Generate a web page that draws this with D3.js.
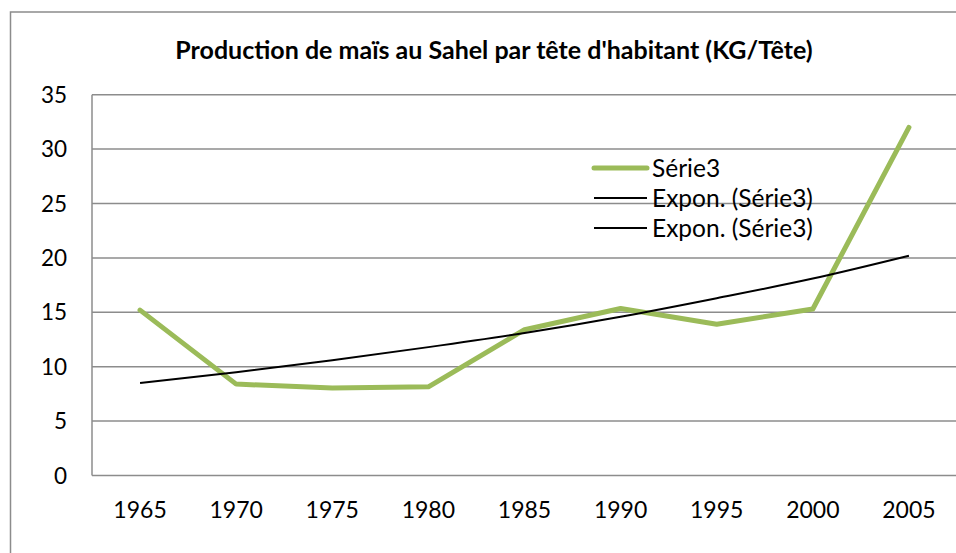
<!DOCTYPE html>
<html>
<head>
<meta charset="utf-8">
<script src="https://cdn.jsdelivr.net/npm/d3@7"></script>
<style>
  body { margin: 0; background: #fff; }
  text { font-family: Lato, "Open Sans", sans-serif; fill: #000; }
</style>
</head>
<body>
<div id="chart"></div>
<script>
var years = ["1965", "1970", "1975", "1980", "1985", "1990", "1995", "2000", "2005"];
var serie3 = [15.2, 8.4, 8.05, 8.15, 13.4, 15.35, 13.9, 15.3, 32.0];
var expon = [8.5, 9.5, 10.6, 11.8, 13.1, 14.6, 16.3, 18.1, 20.2];
var yTicks = [0, 5, 10, 15, 20, 25, 30, 35];
var legendItems = ["Série3", "Expon. (Série3)", "Expon. (Série3)"];
var title = "Production de maïs au Sahel par tête d'habitant (KG/Tête)";

var width = 956, height = 553;
var plotLeft = 92, plotRight = 957, plotTop = 94.7, plotBottom = 475.5;
var green = "#9bbb59", gridColor = "#8c8c8c";

var svg = d3.select("#chart").append("svg")
    .attr("width", width)
    .attr("height", height);

// outer chart border
svg.append("rect")
    .attr("x", 10.5).attr("y", 12)
    .attr("width", 980).attr("height", 600)
    .attr("fill", "none")
    .attr("stroke", gridColor)
    .attr("stroke-width", 1.5);

var x = d3.scaleBand()
    .domain(years)
    .range([plotLeft, plotRight]);

var y = d3.scaleLinear()
    .domain([0, 35])
    .range([plotBottom, plotTop]);

// grid lines
svg.append("g")
    .selectAll("line")
    .data(yTicks)
    .enter().append("line")
    .attr("x1", plotLeft).attr("x2", plotRight)
    .attr("y1", function(d) { return y(d); })
    .attr("y2", function(d) { return y(d); })
    .attr("stroke", gridColor)
    .attr("stroke-width", 1.5);

svg.append("line")
    .attr("x1", plotLeft).attr("x2", plotLeft)
    .attr("y1", y(0)).attr("y2", y(35))
    .attr("stroke", gridColor)
    .attr("stroke-width", 1.5);

// y labels
svg.append("g")
    .selectAll("text")
    .data(yTicks)
    .enter().append("text")
    .attr("x", 67)
    .attr("y", function(d) { return y(d); })
    .attr("dy", "0.36em")
    .attr("text-anchor", "end")
    .style("font-size", "22.5px")
    .text(function(d) { return d; });

// x labels
svg.append("g")
    .selectAll("text")
    .data(years)
    .enter().append("text")
    .attr("x", function(d) { return x(d) + x.bandwidth() / 2; })
    .attr("y", 510)
    .attr("dy", "0.36em")
    .attr("text-anchor", "middle")
    .style("font-size", "23px")
    .text(function(d) { return d; });

var line = d3.line()
    .x(function(d, i) { return x(years[i]) + x.bandwidth() / 2; })
    .y(function(d) { return y(d); });

svg.append("path")
    .datum(serie3)
    .attr("d", line)
    .attr("fill", "none")
    .attr("stroke", green)
    .attr("stroke-width", 5)
    .attr("stroke-linejoin", "round")
    .attr("stroke-linecap", "round");

svg.append("path")
    .datum(expon)
    .attr("d", line.curve(d3.curveMonotoneX))
    .attr("fill", "none")
    .attr("stroke", "#000")
    .attr("stroke-width", 2);

// title
svg.append("text")
    .attr("x", 494)
    .attr("y", 50)
    .attr("dy", "0.36em")
    .attr("text-anchor", "middle")
    .style("font-size", "25px")
    .style("font-weight", "bold")
    .text(title);

// legend
var legend = svg.append("g").attr("transform", "translate(594,168)");
var row = legend.selectAll("g")
    .data(legendItems)
    .enter().append("g")
    .attr("transform", function(d, i) { return "translate(0," + (i * 30) + ")"; });
row.append("line")
    .attr("x1", 0).attr("x2", 53)
    .attr("stroke", function(d, i) { return i === 0 ? green : "#000"; })
    .attr("stroke-width", function(d, i) { return i === 0 ? 5 : 2; })
    .attr("stroke-linecap", function(d, i) { return i === 0 ? "round" : "butt"; });
row.append("text")
    .attr("x", 58)
    .attr("dy", "0.36em")
    .style("font-size", "24.5px")
    .text(function(d) { return d; });
</script>
</body>
</html>
